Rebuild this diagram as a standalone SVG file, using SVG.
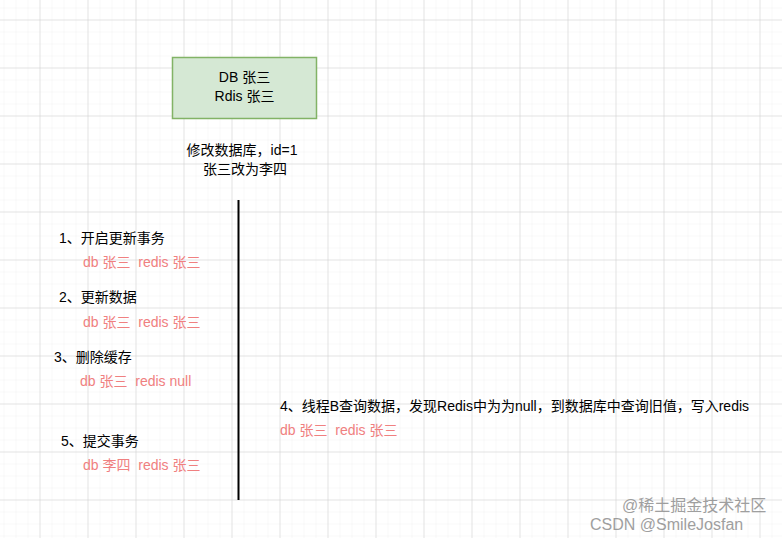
<svg xmlns="http://www.w3.org/2000/svg" width="782" height="538" viewBox="0 0 782 538">
<defs>
<pattern id="minor" x="4.5" y="8.5" width="12" height="12" patternUnits="userSpaceOnUse"><path d="M12 0V12M0 12H12" fill="none" stroke="#f0f0f0" stroke-width="1"/></pattern>
<pattern id="major" x="-7.5" y="-27.5" width="48" height="48" patternUnits="userSpaceOnUse"><path d="M48 0V48M0 48H48" fill="none" stroke="#d0d0d0" stroke-width="1"/></pattern>
</defs>
<style>
text{font-family:"Liberation Sans","Noto Sans CJK SC",sans-serif;font-size:14px;fill:#000;white-space:pre}
.r{fill:#f08080}
.w{fill:#888;font-size:16px;opacity:0.8}
</style>
<rect width="782" height="538" fill="#fff"/>
<rect width="782" height="538" fill="url(#minor)"/>
<rect width="782" height="538" fill="url(#major)"/>
<g id="box">
<rect x="172.5" y="57.5" width="144" height="61" fill="#d5e8d4" stroke="#82b366" stroke-width="1.5"/>
<text x="244.5" y="82" text-anchor="middle">DB 张三</text>
<text x="244.5" y="101" text-anchor="middle">Rdis 张三</text>
</g>
<g id="title">
<text x="242" y="155" text-anchor="middle">修改数据库，id=1</text>
<text x="245" y="174" text-anchor="middle">张三改为李四</text>
</g>
<g id="connectors"><line x1="238.5" y1="200" x2="238.5" y2="500" stroke="#000" stroke-width="2"/></g>
<g id="steps" xml:space="preserve">
<text x="59" y="243">1、开启更新事务</text>
<text x="83" y="267" class="r">db 张三  redis 张三</text>
<text x="59" y="302">2、更新数据</text>
<text x="83" y="327" class="r">db 张三  redis 张三</text>
<text x="54" y="362">3、删除缓存</text>
<text x="80" y="386" class="r">db 张三  redis null</text>
<text x="280" y="411">4、线程B查询数据，发现Redis中为为null，到数据库中查询旧值，写入redis</text>
<text x="280" y="435" class="r">db 张三  redis 张三</text>
<text x="61" y="446">5、提交事务</text>
<text x="83" y="470" class="r">db 李四  redis 张三</text>
</g>
<text x="622" y="511" class="w">@稀土掘金技术社区</text>
<text x="590" y="530" class="w">CSDN @SmileJosfan</text>
</svg>
